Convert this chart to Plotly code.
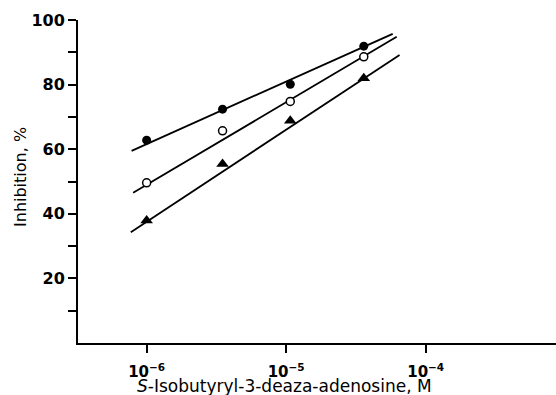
import plotly.graph_objects as go

# Data
conc_filled = [1.0e-6, 3.5e-6, 1.07e-5, 3.6e-5]
inh_filled = [62.8, 72.4, 80.1, 91.9]
conc_open = [1.0e-6, 3.5e-6, 1.07e-5, 3.6e-5]
inh_open = [49.6, 65.7, 74.8, 88.6]
conc_tri = [1.0e-6, 3.5e-6, 1.07e-5, 3.6e-5]
inh_tri = [37.9, 55.4, 68.8, 82.0]

# fitted line endpoints
fit_filled_x = [7.8e-7, 5.8e-5]
fit_filled_y = [59.5, 95.7]
fit_open_x = [8.0e-7, 6.2e-5]
fit_open_y = [46.5, 94.8]
fit_tri_x = [7.7e-7, 6.5e-5]
fit_tri_y = [34.3, 89.2]

x_tickvals = [1e-6, 1e-5, 1e-4]
x_ticktext = ["10<sup>−6</sup>", "10<sup>−5</sup>", "10<sup>−4</sup>"]
y_tickvals = [20, 40, 60, 80, 100]
y_minor_tickvals = [10, 30, 50, 70, 90]

FONT = "DejaVu Sans, Verdana, sans-serif"

fig = go.Figure()
line_style = dict(color="black", width=1.8)
for fx, fy in [(fit_filled_x, fit_filled_y), (fit_open_x, fit_open_y), (fit_tri_x, fit_tri_y)]:
    fig.add_trace(go.Scatter(x=fx, y=fy, mode="lines", line=line_style,
                             showlegend=False, hoverinfo="skip"))

fig.add_trace(go.Scatter(x=conc_filled, y=inh_filled, mode="markers",
                         marker=dict(symbol="circle", size=9, color="black"),
                         showlegend=False))
fig.add_trace(go.Scatter(x=conc_open, y=inh_open, mode="markers",
                         marker=dict(symbol="circle", size=8, color="white",
                                     line=dict(color="black", width=1.5)),
                         showlegend=False))
fig.add_trace(go.Scatter(x=conc_tri, y=inh_tri, mode="markers",
                         marker=dict(symbol="triangle-up", size=11, color="black"),
                         showlegend=False))

fig.update_layout(
    width=556, height=395,
    margin=dict(l=78, r=0, t=20, b=52),
    paper_bgcolor="white", plot_bgcolor="white",
    font=dict(family=FONT, color="black"),
    showlegend=False,
    annotations=[
        dict(text="<i>S</i>-Isobutyryl-3-deaza-adenosine, M",
             xref="paper", yref="paper", x=0.431, y=0, yshift=-43,
             xanchor="center", yanchor="middle", showarrow=False,
             font=dict(family=FONT, size=17, color="black")),
        dict(text="Inhibition, %",
             xref="paper", yref="paper", x=0, xshift=-57, y=0.514,
             xanchor="center", yanchor="middle", textangle=-90, showarrow=False,
             font=dict(family=FONT, size=16, color="black")),
    ],
)
fig.update_xaxes(
    type="log", range=[-6.492, -3.066],
    showline=True, linecolor="black", linewidth=2,
    showgrid=False, zeroline=False,
    ticks="outside", ticklen=8, tickwidth=1.5, tickcolor="black",
    tickvals=x_tickvals, ticktext=x_ticktext,
    ticklabelstandoff=6,
    tickfont=dict(size=15, family=FONT, weight="bold"),
)
fig.update_yaxes(
    range=[0, 100],
    showline=True, linecolor="black", linewidth=2,
    showgrid=False, zeroline=False,
    ticks="outside", ticklen=8, tickwidth=1.5, tickcolor="black",
    tickvals=y_tickvals,
    tickfont=dict(size=16, family=FONT, weight="bold"),
    minor=dict(tickvals=y_minor_tickvals, ticks="outside", ticklen=8,
               tickwidth=1.5, tickcolor="black", showgrid=False),
)

fig.write_html("out.html", config={"displayModeBar": False},
               post_script="document.body.style.margin='0';document.body.style.overflow='hidden';")
